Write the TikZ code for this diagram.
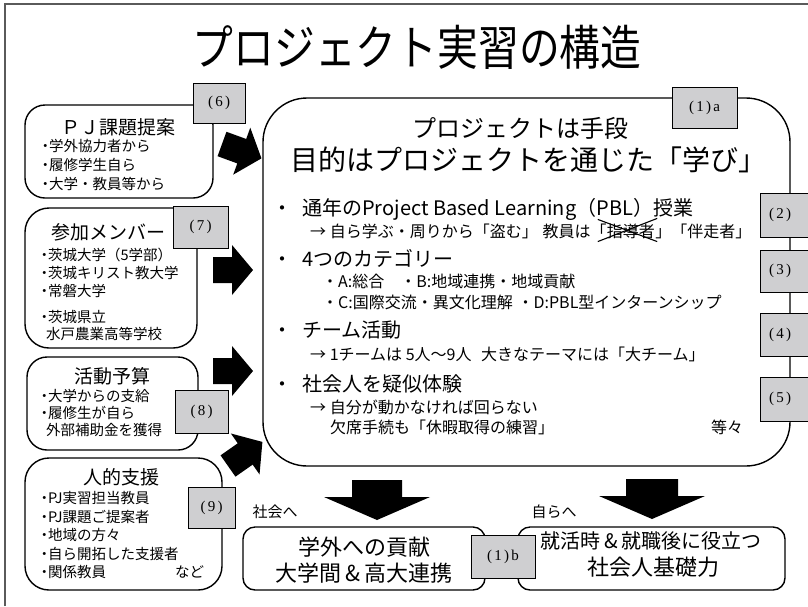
\documentclass[tikz,border=0pt]{standalone}
\usepackage{fontspec}
\setmainfont{Noto Sans CJK JP}
\newfontfamily\lblfont[LetterSpace=15]{Liberation Serif}
\usepackage{graphicx}
\newcommand{\myfs}[1]{\fontsize{#1}{#1}\selectfont}
\newcommand{\bul}{・\hspace{-0.25em}}
\definecolor{lblgray}{RGB}{207,207,209}
\definecolor{framegray}{RGB}{90,90,90}
\newcommand{\blockarrow}[6]{\fill[blk, shift={(#1)}, rotate=#2] (0,-#5) -- ({#3-#4},-#5) -- ({#3-#4},-#6) -- (#3,0) -- ({#3-#4},#6) -- ({#3-#4},#5) -- (0,#5) -- cycle;}
\tikzset{
  txt/.style={inner sep=0pt, outer sep=0pt},
  rbox/.style={draw=black, line width=1.4pt, fill=white},
  lbl/.style={draw=black, line width=0.9pt, fill=lblgray, inner sep=0pt},
  lbltxt/.style={inner sep=0pt, font={\lblfont\myfs{15}}},
  blk/.style={fill=black},
  item/.style={inner sep=0pt, anchor=west, font={\myfs{14.5}}},
  ltitle/.style={inner sep=0pt, font={\myfs{19}}},
  mhead/.style={inner sep=0pt, anchor=west, font={\myfs{20}}},
  msub/.style={inner sep=0pt, anchor=west, font={\myfs{16}}},
}
\begin{document}
\begin{tikzpicture}[x=1pt,y=-1pt]
\useasboundingbox (0,0) rectangle (808,606);
\fill[white] (0,0) rectangle (808,606);
\clip (0,0) rectangle (808,606);
% frame
\draw[framegray, line width=1.2pt] (5,606) -- (5,4) -- (808,4);
% title
\node[txt] (title) at (417,47) {\myfs{48}\scalebox{0.85}[1]{プロジェクト実習の構造}};
% main box
\node[rbox, rounded corners=44pt, minimum width=527pt, minimum height=368pt] (main) at (526.5,282) {};
% left boxes
\node[rbox, rounded corners=20pt, minimum width=188pt, minimum height=93pt] (n6) at (119,151.5) {};
\node[rbox, rounded corners=24pt, minimum width=172pt, minimum height=140pt] (n7) at (111,278) {};
\node[rbox, rounded corners=20pt, minimum width=171pt, minimum height=93pt] (n8) at (112.5,403.5) {};
\node[rbox, rounded corners=24pt, minimum width=197pt, minimum height=132pt] (n9) at (123.5,524) {};
% bottom boxes
\node[rbox, rounded corners=12pt, minimum width=242pt, minimum height=63pt] (o1) at (364,558.5) {};
\node[rbox, rounded corners=12pt, minimum width=267pt, minimum height=63pt] (o2) at (651.5,558.5) {};
% labels
\node[lbl, minimum width=52pt, minimum height=40pt] (L6) at (219,103) {};
\node[lbltxt] (t6) at (219,103) {(6)};
\node[lbl, minimum width=55pt, minimum height=42pt] (L7) at (200.5,227) {};
\node[lbltxt] (t7) at (200.5,227) {(7)};
\node[lbl, minimum width=53pt, minimum height=43pt] (L8) at (201.5,411.5) {};
\node[lbltxt] (t8) at (201.5,411.5) {(8)};
\node[lbl, minimum width=47pt, minimum height=41pt] (L9) at (211.5,507.5) {};
\node[lbltxt] (t9) at (211.5,507.5) {(9)};
\node[lbl, minimum width=65pt, minimum height=41pt] (L1a) at (704.5,107.5) {};
\node[lbltxt] (t1a) at (704.5,107.5) {(1)a};
\node[lbl, minimum width=62pt, minimum height=44pt] (L2) at (791,215) {};
\node[lbltxt] (t2) at (780,215) {(2)};
\node[lbl, minimum width=62pt, minimum height=42pt] (L3) at (791,271) {};
\node[lbltxt] (t3) at (780,271) {(3)};
\node[lbl, minimum width=62pt, minimum height=43pt] (L4) at (791,334.5) {};
\node[lbltxt] (t4) at (780,334.5) {(4)};
\node[lbl, minimum width=62pt, minimum height=44pt] (L5) at (791,399) {};
\node[lbltxt] (t5) at (780,399) {(5)};
\node[lbl, minimum width=64pt, minimum height=43pt] (L1b) at (503,556.5) {};
\node[lbltxt] (t1b) at (503,556.5) {(1)b};
% block arrows
\coordinate (a1) at (222,144);
\coordinate (a2) at (213,270);
\coordinate (a3) at (213,371);
\coordinate (a4) at (228,466);
\coordinate (d1) at (377,480);
\coordinate (d2) at (652,479);
\blockarrow{a1}{-20}{42}{21}{13}{25}
\blockarrow{a2}{0}{40}{21}{13}{25}
\blockarrow{a3}{0}{40}{21}{13}{25}
\blockarrow{a4}{35}{42}{21}{13}{25}
\blockarrow{d1}{-90}{40}{23}{25}{53}
\blockarrow{d2}{-90}{40}{23}{26}{53}
% main box text
\node[txt] (m1) at (520,128) {\myfs{24}プロジェクトは手段};
\node[txt] (m2) at (528,160) {\myfs{28}目的はプロジェクトを通じた「学び」};
\node[mhead] (p1) at (272,209) {・\hspace{0.5em}通年のProject Based Learning（PBL）授業};
\node[msub] (p1a) at (310,231) {→ 自ら学ぶ・周りから「盗む」\hspace{0.3em}教員は「};
\node[msub, anchor=base west] (p1b) at (p1a.base east) {指導者};
\node[msub, anchor=base west] (p1c) at (p1b.base east) {」「伴走者」};
\draw[line width=1.1pt] ([xshift=-9pt,yshift=4pt]p1b.north west) -- ([xshift=2pt,yshift=-3pt]p1b.south east);
\draw[line width=1.1pt] ([xshift=-9pt,yshift=-3pt]p1b.south west) -- ([xshift=2pt,yshift=5pt]p1b.north east);
\node[mhead] (p2) at (272,258) {・\hspace{0.5em}4つのカテゴリー};
\node[msub] (p2a) at (322,281) {・A:総合\hspace{1em}・B:地域連携・地域貢献};
\node[msub] (p2b) at (322,302) {・C:国際交流・異文化理解\hspace{0.3em}・D:PBL型インターンシップ};
\node[mhead] (p3) at (272,330) {・\hspace{0.5em}チーム活動};
\node[msub] (p3a) at (310,354) {→ 1チームは 5人～9人\hspace{0.6em}大きなテーマには「大チーム」};
\node[mhead] (p4) at (272,384) {・\hspace{0.5em}社会人を疑似体験};
\node[msub] (p4a) at (310,407) {→ 自分が動かなければ回らない};
\node[msub] (p4b) at (330,427) {欠席手続も「休暇取得の練習」};
\node[txt, font={\myfs{16}}] (p4c) at (727,427) {等々};
% left box texts
\node[ltitle] (h6) at (118,127) {ＰＪ課題提案};
\node[item] (i61) at (38,146) {\bul 学外協力者から};
\node[item] (i62) at (38,165) {\bul 履修学生自ら};
\node[item] (i63) at (38,184) {\bul 大学・教員等から};
\node[ltitle] (h7) at (108,232) {参加メンバー};
\node[item] (i71) at (37,255) {\bul 茨城大学（5学部）};
\node[item] (i72) at (37,273) {\bul 茨城キリスト教大学};
\node[item] (i73) at (37,291) {\bul 常磐大学};
\node[item] (i74) at (37,317) {\bul 茨城県立};
\node[item] (i75) at (46,334) {水戸農業高等学校};
\node[ltitle] (h8) at (112,376) {活動予算};
\node[item] (i81) at (37,396) {\bul 大学からの支給};
\node[item] (i82) at (37,413) {\bul 履修生が自ら};
\node[item] (i83) at (46,430) {外部補助金を獲得};
\node[ltitle] (h9) at (121,477) {人的支援};
\node[item] (i91) at (37,498) {\bul PJ実習担当教員};
\node[item] (i92) at (37,517) {\bul PJ課題ご提案者};
\node[item] (i93) at (37,535) {\bul 地域の方々};
\node[item] (i94) at (37,554) {\bul 自ら開拓した支援者};
\node[item] (i95) at (37,572) {\bul 関係教員};
\node[item] (i96) at (175,572) {など};
% bottom texts
\node[txt, font={\myfs{15}}] (s1) at (275,512) {社会へ};
\node[txt, font={\myfs{15}}] (s2) at (554,512) {自らへ};
\node[txt, font={\myfs{22}}] (o1a) at (364,547) {学外への貢献};
\node[txt, font={\myfs{22}}] (o1b) at (364,573) {大学間\,\&\,高大連携};
\node[txt, font={\myfs{20}}] (o2a) at (651,541) {就活時\,\&\,就職後に役立つ};
\node[txt, font={\myfs{22}}] (o2b) at (653,567) {社会人基礎力};
\end{tikzpicture}
\end{document}
